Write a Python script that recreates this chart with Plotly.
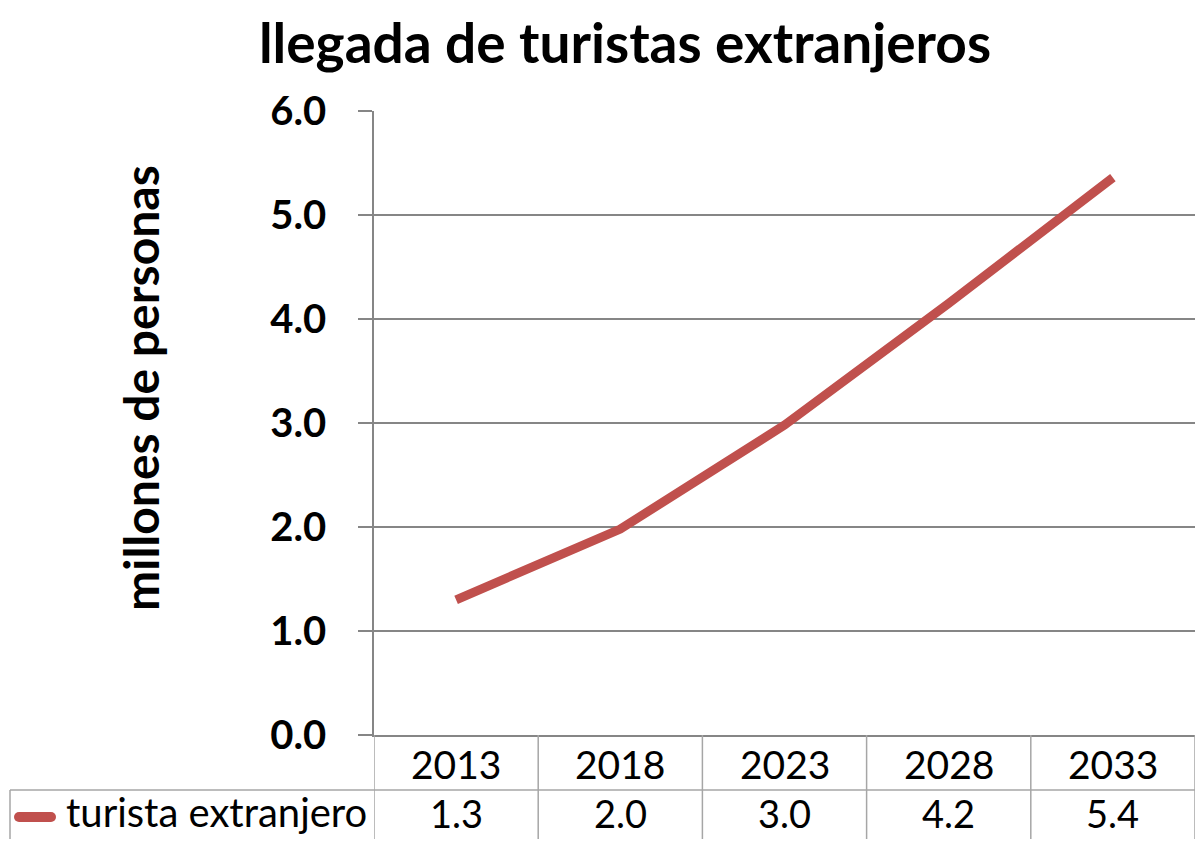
import plotly.graph_objects as go

years = ['2013', '2018', '2023', '2028', '2033']
tourists = [1.3, 1.98, 2.98, 4.15, 5.36]
series_name = 'turista extranjero'

line_color = '#C0504D'
grid_color = '#868686'
table_color = '#A6A6A6'
font_name = 'Lato'

# page body has an 8px margin, so the figure is drawn 8px in from the corner
OFF = 8
W, H = 1203 - 2 * OFF, 847 - 2 * OFF
ML, MT = 374 - OFF, 111 - OFF
MB = H - (735 - OFF)
plot_h = H - MT - MB


def py(pix):
    # page pixel row -> paper y
    return (H - MB - (pix - OFF)) / plot_h


def px(pix):
    return (pix - OFF - ML) / (W - ML)


fig = go.Figure()
fig.add_trace(go.Scatter(
    x=years, y=tourists, mode='lines', name=series_name,
    line=dict(color=line_color, width=9), showlegend=False
))

shapes = []
# data table grid
n = len(years)
for i in range(n + 1):
    shapes.append(dict(type='line', xref='x', yref='paper',
                       x0=i - 0.5, x1=i - 0.5, y0=0, y1=py(860),
                       line=dict(color=table_color, width=1.5)))
shapes.append(dict(type='line', xref='paper', yref='paper',
                   x0=px(10), x1=1.01, y0=py(790), y1=py(790),
                   line=dict(color=table_color, width=1.5)))
shapes.append(dict(type='line', xref='paper', yref='paper',
                   x0=px(10), x1=px(10), y0=py(790), y1=py(860),
                   line=dict(color=table_color, width=1.5)))
# legend key
shapes.append(dict(type='line', xref='paper', yref='paper',
                   x0=px(19), x1=px(51), y0=py(817), y1=py(817),
                   line=dict(color=line_color, width=10)))
shapes.append(dict(type='circle', xref='paper', yref='paper',
                   x0=px(14), x1=px(24), y0=py(822), y1=py(812),
                   fillcolor=line_color, line=dict(width=0)))
shapes.append(dict(type='circle', xref='paper', yref='paper',
                   x0=px(46), x1=px(56), y0=py(822), y1=py(812),
                   fillcolor=line_color, line=dict(width=0)))

annotations = []
for i, (yr, v) in enumerate(zip(years, tourists)):
    annotations.append(dict(x=i, y=py(764), xref='x', yref='paper',
                            text=yr, showarrow=False, yanchor='middle',
                            font=dict(family=font_name, size=39, color='black')))
    annotations.append(dict(x=i, y=py(813), xref='x', yref='paper',
                            text=f'{v:.1f}', showarrow=False, yanchor='middle',
                            font=dict(family=font_name, size=38, color='black')))
annotations.append(dict(x=px(369), y=py(812), xref='paper', yref='paper',
                        text=series_name, showarrow=False,
                        xanchor='right', yanchor='middle',
                        font=dict(family=font_name, size=40, color='black')))
annotations.append(dict(x=px(140), y=py(388), xref='paper', yref='paper',
                        text='<b>millones de personas</b>', showarrow=False,
                        textangle=-90, xanchor='center', yanchor='middle',
                        font=dict(family=font_name, size=48, color='black')))

fig.update_layout(
    width=W, height=H,
    margin=dict(l=ML, r=0, t=MT, b=MB),
    paper_bgcolor='white', plot_bgcolor='white',
    title=dict(text='<b>llegada de turistas extranjeros</b>',
               x=(625 - OFF) / W, xanchor='center',
               y=1 - (44 - OFF) / H, yanchor='middle',
               font=dict(family=font_name, size=55, color='black')),
    xaxis=dict(type='category', range=[-0.5, n - 0.5], showticklabels=False,
               showgrid=False, showline=True, linecolor=grid_color, linewidth=1.5,
               zeroline=False, fixedrange=True),
    yaxis=dict(range=[0, 6], dtick=1, tickformat='.1f', showgrid=True,
               gridcolor=grid_color, gridwidth=1.5, showline=True,
               linecolor=grid_color, linewidth=1.5, ticks='outside',
               ticklen=14, tickcolor=grid_color, tickwidth=1.5,
               ticklabelstandoff=24, zeroline=False,
               tickfont=dict(family=font_name, size=40, color='black', weight='bold')),
    shapes=shapes,
    annotations=annotations,
)

fig.write_html("out.html")
